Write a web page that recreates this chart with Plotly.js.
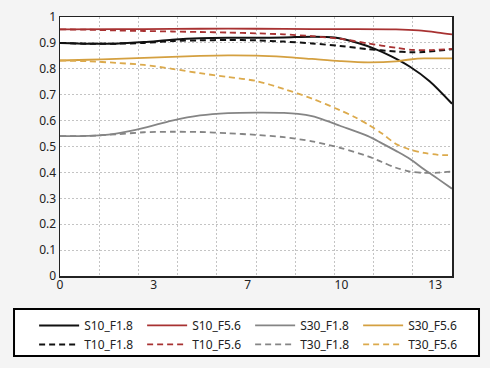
<!DOCTYPE html>
<html>
<head>
<meta charset="utf-8">
<script src="https://cdn.plot.ly/plotly-3.0.1.min.js"></script>
<style>html,body{margin:0;padding:0;background:#f4f4f4;}#chart{width:490px;height:368px;}</style>
</head>
<body>
<div id="chart"></div>
<script>
// x positions (image height units, 0..14)
const xS10F18 = [0,1,2,3,4,5,6,7,8,9,9.8,10.7,11.2,11.8,12.5,13.2,14];
const yS10F18 = [0.900,0.897,0.897,0.903,0.912,0.918,0.920,0.920,0.921,0.924,0.921,0.898,0.879,0.850,0.808,0.752,0.665];

const xT10F18 = [0,1,2,3,4,5,6,7,8,9,10,11,12,12.5,13,14];
const yT10F18 = [0.900,0.897,0.897,0.900,0.907,0.910,0.911,0.910,0.905,0.898,0.888,0.876,0.867,0.864,0.865,0.876];

const xS10F56 = [0,2,4,6,8,10,12,12.8,13.5,14];
const yS10F56 = [0.952,0.953,0.954,0.955,0.954,0.953,0.952,0.948,0.940,0.933];

const xT10F56 = [0,1,2,3,4,5,6,7,8,9,10,11,12,12.6,13.2,14];
const yT10F56 = [0.952,0.951,0.948,0.946,0.944,0.942,0.940,0.937,0.933,0.926,0.916,0.898,0.881,0.873,0.872,0.877];

const xS30F18 = [0,1,1.4,2,3,4,5,6,7,8,8.5,9,9.5,10,11,11.5,12,12.5,13,13.5,14];
const yS30F18 = [0.540,0.541,0.543,0.550,0.572,0.600,0.620,0.629,0.631,0.630,0.626,0.617,0.600,0.580,0.540,0.512,0.483,0.452,0.412,0.375,0.337];

const xT30F18 = [0,1,2,3,4,5,6,7,8,9,10,11,11.5,12,12.5,13,13.5,14];
const yT30F18 = [0.540,0.541,0.547,0.555,0.557,0.556,0.551,0.545,0.536,0.520,0.495,0.462,0.440,0.418,0.403,0.398,0.399,0.404];

const xS30F56 = [0,1,2,3,4,5,6,7,8,9,10,11,12,12.5,13,14];
const yS30F56 = [0.832,0.835,0.838,0.842,0.846,0.850,0.852,0.851,0.846,0.838,0.830,0.825,0.829,0.836,0.840,0.840];

const xT30F56 = [0,1,2,3,4,5,6,7,8,9,10,10.5,11,11.5,12,12.5,13,13.5,14];
const yT30F56 = [0.832,0.829,0.823,0.815,0.800,0.783,0.768,0.753,0.722,0.685,0.640,0.615,0.585,0.550,0.510,0.488,0.475,0.468,0.466];

// axis labels
const xTickVals = [0,3.35,6.7,10.05,13.4];
const xTickText = ['0','3','7','10','13'];

const BLACK = '#111111', RED = '#a83232', GRAY = '#858585', GOLD = '#d4a040', GOLDL = '#dcaa4c';
const DASH = '6px,4px';

function tr(name, x, y, color, width, dash) {
  return {x: x, y: y, name: name, type: 'scatter', mode: 'lines',
    line: {color: color, width: width, dash: dash || 'solid', shape: 'spline', smoothing: 0.8},
    hoverinfo: 'skip'};
}

const data = [
  tr('S10_F1.8', xS10F18, yS10F18, BLACK, 2),
  tr('S10_F5.6', xS10F56, yS10F56, RED, 1.8),
  tr('S30_F1.8', xS30F18, yS30F18, GRAY, 1.8),
  tr('S30_F5.6', xS30F56, yS30F56, GOLD, 1.8),
  tr('T10_F1.8', xT10F18, yT10F18, BLACK, 2, DASH),
  tr('T10_F5.6', xT10F56, yT10F56, RED, 1.8, DASH),
  tr('T30_F1.8', xT30F18, yT30F18, GRAY, 1.8, DASH),
  tr('T30_F5.6', xT30F56, yT30F56, GOLDL, 1.8, DASH),
  // carrier for the labelled x axis (no visible marks)
  {x: [0, 14], y: [null, null], xaxis: 'x2', yaxis: 'y', type: 'scatter', mode: 'lines',
   showlegend: false, hoverinfo: 'skip', line: {width: 0}}
];

const gridStyle = {gridcolor: '#c4c4c4', gridwidth: 1, griddash: '2px,2px'};
const fontFam = 'Noto Sans, Open Sans, sans-serif';

const layout = {
  width: 490, height: 368,
  paper_bgcolor: '#f4f4f4', plot_bgcolor: '#ffffff',
  margin: {l: 60, r: 38, t: 17, b: 92, autoexpand: false},
  font: {family: fontFam, size: 12, color: '#222'},
  showlegend: true,
  xaxis: Object.assign({range: [0, 14], dtick: 1.4, tick0: 0, showgrid: true, showticklabels: false,
    ticks: '', zeroline: false, showline: true, linecolor: '#222', linewidth: 1.5, mirror: true, fixedrange: true}, gridStyle),
  xaxis2: {overlaying: 'x', anchor: 'y', side: 'bottom', range: [0, 14], tickmode: 'array',
    tickvals: xTickVals, ticktext: xTickText, showgrid: false, zeroline: false, ticks: '', showline: false,
    tickfont: {size: 12, color: '#222'}, fixedrange: true},
  yaxis: Object.assign({range: [0, 1], dtick: 0.1, tick0: 0, showgrid: true, ticks: '', zeroline: false,
    showline: true, linecolor: '#222', linewidth: 1.5, mirror: true, tickfont: {size: 12, color: '#222'},
    fixedrange: true}, gridStyle),
  legend: {orientation: 'h', x: -0.066, xanchor: 'left', y: -0.135, yanchor: 'top',
    bgcolor: 'rgba(0,0,0,0)', borderwidth: 0, entrywidth: 53, entrywidthmode: 'pixels',
    itemwidth: 40, traceorder: 'normal', tracegroupgap: 0,
    font: {size: 12, color: '#222', family: fontFam}},
  shapes: [{type: 'rect', xref: 'paper', yref: 'paper', x0: -0.1173, x1: 1.0689, y0: -0.1274, y1: -0.3089,
    line: {color: '#000', width: 2}, fillcolor: '#ffffff', layer: 'below'}]
};

Plotly.newPlot('chart', data, layout, {displayModeBar: false, staticPlot: true});
</script>
</body>
</html>
